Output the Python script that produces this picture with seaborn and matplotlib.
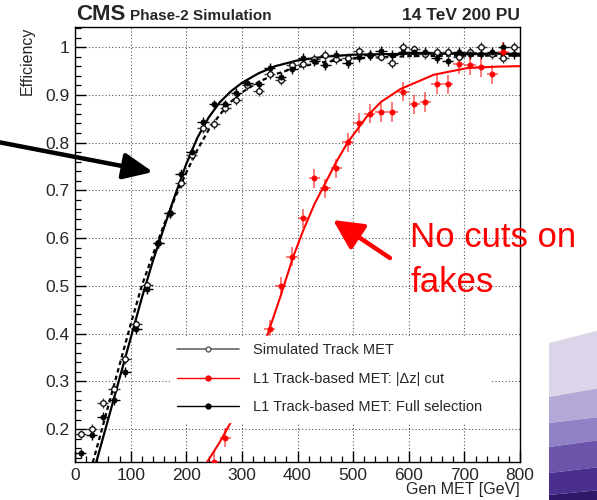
import numpy as np
import pandas as pd
import matplotlib
matplotlib.use("Agg")
import matplotlib.pyplot as plt
import seaborn as sns
from matplotlib.lines import Line2D
from matplotlib.patches import Polygon
from matplotlib.ticker import MultipleLocator, FuncFormatter

# ---------------- data ----------------
bin_centers = [10, 30, 50, 70, 90, 110, 130, 150, 170, 190,
               210, 230, 250, 270, 290, 310, 330, 350, 370, 390,
               410, 430, 450, 470, 490, 510, 530, 550, 570, 590,
               610, 630, 650, 670, 690, 710, 730, 750, 770, 790]

sim_eff = [0.189, 0.201, 0.254, 0.283, 0.346, 0.421, 0.501, 0.589, 0.652, 0.715,
           0.774, 0.830, 0.839, 0.872, 0.889, 0.920, 0.908, 0.943, 0.930, 0.962,
           0.964, 0.975, 0.983, 0.974, 0.978, 0.992, 0.983, 0.980, 0.966, 1.000,
           0.995, 0.985, 0.990, 0.990, 0.980, 0.990, 1.000, 0.985, 0.977, 1.000]

full_eff = [0.149, 0.187, 0.226, 0.260, 0.319, 0.409, 0.493, 0.589, 0.652, 0.735,
            0.780, 0.843, 0.880, 0.880, 0.904, 0.924, 0.922, 0.956, 0.937, 0.954,
            0.977, 0.970, 0.962, 0.983, 0.966, 0.979, 0.983, 0.992, 0.983, 0.990,
            0.990, 0.990, 0.977, 0.970, 0.990, 0.985, 0.985, 0.990, 1.000, 0.985]

dz_x = [250, 270, 350, 370, 390, 410, 430, 450, 470, 490, 510, 530, 550,
        570, 590, 610, 630, 650, 670, 690, 710, 730, 750, 770]
dz_eff = [0.132, 0.182, 0.409, 0.499, 0.561, 0.641, 0.725, 0.704, 0.746, 0.801,
          0.841, 0.860, 0.864, 0.864, 0.906, 0.880, 0.885, 0.922, 0.922, 0.964,
          0.962, 0.958, 0.943, 0.990]

sim_err = [0.010] * len(bin_centers)
full_err = [0.010] * len(bin_centers)
dz_err = [0.020] * len(dz_x)
bin_half_width = 10

# fitted curves
full_fit_x = [38, 60, 80, 100, 120, 140, 160, 180, 200, 220, 240, 260, 280,
              300, 330, 360, 400, 450, 500, 600, 700, 800]
full_fit_y = [0.13, 0.222, 0.306, 0.39, 0.474, 0.552, 0.622, 0.69, 0.755, 0.81,
              0.852, 0.884, 0.907, 0.925, 0.945, 0.96, 0.972, 0.98, 0.984, 0.986,
              0.986, 0.986]

sim_fit_x = [32, 60, 80, 100, 120, 140, 160, 180, 200, 220, 240, 260, 280,
             300, 330, 360, 400, 450, 500, 600, 700, 800]
sim_fit_y = [0.13, 0.249, 0.334, 0.419, 0.50, 0.565, 0.628, 0.685, 0.737, 0.785,
             0.826, 0.858, 0.885, 0.905, 0.927, 0.943, 0.958, 0.969, 0.976, 0.981,
             0.982, 0.982]

dz_fit_x = [237, 260, 282, 345, 370, 392, 410, 430, 450, 470, 490, 525, 550,
            585, 645, 705, 760, 800]
dz_fit_y = [0.13, 0.172, 0.218, 0.394, 0.48, 0.56, 0.615, 0.67, 0.715, 0.76,
            0.80, 0.855, 0.885, 0.912, 0.942, 0.956, 0.959, 0.96]

x_ticks = [0, 100, 200, 300, 400, 500, 600, 700, 800]
y_ticks = [0.2, 0.3, 0.4, 0.5, 0.6, 0.7, 0.8, 0.9, 1.0]

# ---------------- style ----------------
sns.set_theme(style="white")
plt.rcParams['font.family'] = ['Liberation Sans', 'DejaVu Sans']
plt.rcParams['axes.linewidth'] = 1.0

W, H = 597, 500
fig = plt.figure(figsize=(W / 100, H / 100), dpi=100)
ax = fig.add_axes([75 / W, 38 / H, 445 / W, 435 / H])

# grid
ax.set_axisbelow(True)
ax.grid(True, which='major', linestyle=(0, (1, 2)), color='#555555', linewidth=0.8)

# fitted curves
sns.lineplot(x=sim_fit_x, y=sim_fit_y, ax=ax, color='black', linewidth=1.6,
             linestyle=(0, (2, 1.5)), sort=False, estimator=None, zorder=3)
sns.lineplot(x=full_fit_x, y=full_fit_y, ax=ax, color='black', linewidth=1.6,
             sort=False, estimator=None, zorder=3)
sns.lineplot(x=dz_fit_x, y=dz_fit_y, ax=ax, color='#ff0000', linewidth=1.5,
             sort=False, estimator=None, zorder=3)

# error bars
ax.errorbar(bin_centers, sim_eff, xerr=bin_half_width, yerr=sim_err, fmt='none',
            ecolor='#333333', elinewidth=1.0, capsize=0, zorder=4)
ax.errorbar(bin_centers, full_eff, xerr=bin_half_width, yerr=full_err, fmt='none',
            ecolor='black', elinewidth=1.0, capsize=0, zorder=4)
ax.errorbar(dz_x, dz_eff, xerr=bin_half_width, yerr=dz_err, fmt='none',
            ecolor='#ff0000', alpha=0.6, elinewidth=1.2, capsize=0, zorder=4)

# markers
sns.scatterplot(x=bin_centers, y=sim_eff, ax=ax, marker='o', s=16,
                facecolor='white', edgecolor='black', linewidth=0.9, zorder=5)
sns.scatterplot(x=bin_centers, y=full_eff, ax=ax, marker='o', s=14,
                color='black', edgecolor='black', linewidth=0.5, zorder=6)
sns.scatterplot(x=dz_x, y=dz_eff, ax=ax, marker='o', s=14,
                color='#ff0000', edgecolor='#ff0000', linewidth=0.5, zorder=6)

# axes
ax.set_xlim(0, 800)
ax.set_ylim(0.131, 1.042)
ax.set_xticks(x_ticks)
ax.set_yticks(y_ticks)
ax.xaxis.set_minor_locator(MultipleLocator(20))
ax.yaxis.set_minor_locator(MultipleLocator(0.02))
ax.yaxis.set_major_formatter(FuncFormatter(lambda v, p: ('%g' % round(v, 2))))
ax.tick_params(which='both', direction='in', top=False, right=False,
               bottom=True, left=True, color='black', labelsize=12.5)
ax.tick_params(which='major', length=8, width=1.0, pad=4)
ax.tick_params(which='minor', length=4.5, width=0.9)
for s in ax.spines.values():
    s.set_color('black')
    s.set_linewidth(1.0)

ax.set_xlabel('Gen MET [GeV]', fontsize=11.5, loc='right')
ax.xaxis.set_label_coords(1.0, -0.045)
ax.set_ylabel('Efficiency', fontsize=11.5, loc='top')
ax.yaxis.set_label_coords(-0.09, 1.0)

# header texts
fig.text(76 / W, 1 - 20.5 / H, 'CMS', fontsize=16, fontweight='bold', ha='left', va='baseline')
fig.text(130 / W, 1 - 20.5 / H, 'Phase-2 Simulation', fontsize=11, fontweight='bold',
         ha='left', va='baseline')
fig.text(520 / W, 1 - 20.5 / H, '14 TeV 200 PU', fontsize=12.5, fontweight='bold',
         ha='right', va='baseline')

# legend
handles = [
    Line2D([], [], color='#666666', lw=1.2, marker='o', ms=3.5, mfc='white', mec='#555555'),
    Line2D([], [], color='#ff0000', lw=1.0, marker='o', ms=3.5, mfc='#ff0000', mec='#ff0000'),
    Line2D([], [], color='black', lw=1.0, marker='o', ms=3.5, mfc='black', mec='black'),
]
labels = ['Simulated Track MET', 'L1 Track-based MET: |Δz| cut',
          'L1 Track-based MET: Full selection']
leg = ax.legend(handles, labels, loc='upper left',
                bbox_to_anchor=((170 - 75) / 445, (462 - 336) / 435),
                bbox_transform=ax.transAxes, borderaxespad=0, borderpad=0.5,
                frameon=True, fancybox=False, framealpha=1.0, facecolor='white',
                edgecolor='white', fontsize=10.5, handlelength=4.2,
                handletextpad=1.0, labelspacing=1.0)
leg.set_zorder(10)

# annotations outside / on the plot
ax.annotate('', xy=(153, H - 172), xycoords='figure pixels',
            xytext=(-2, H - 142), textcoords='figure pixels',
            arrowprops=dict(arrowstyle='-|>,head_length=0.9,head_width=0.4',
                            mutation_scale=20, lw=3.2, color='black',
                            shrinkA=0, shrinkB=0),
            annotation_clip=False, zorder=20)
ax.annotate('', xy=(333, H - 220), xycoords='figure pixels',
            xytext=(390, H - 258), textcoords='figure pixels',
            arrowprops=dict(arrowstyle='-|>,head_length=0.9,head_width=0.45',
                            mutation_scale=20, lw=3.2, color='#ff0000',
                            shrinkA=0, shrinkB=0),
            annotation_clip=False, zorder=20)
fig.text(410 / W, 1 - 247 / H, 'No cuts on', fontsize=25, color='#ff0000',
         ha='left', va='baseline', zorder=20)
fig.text(410 / W, 1 - 292 / H, 'fakes', fontsize=25, color='#ff0000',
         ha='left', va='baseline', zorder=20)

# purple decoration in the lower right corner
x0, x1 = 549, 600
bounds = [(343, 330), (397, 388), (423, 417), (447, 440), (473, 467), (495, 490), (502, 502)]
band_colors = ['#dcd5ea', '#b4a8d6', '#9181c5', '#6b54aa', '#4a2f8f', '#2f1868']
for (a, b), (c, d), col in zip(bounds[:-1], bounds[1:], band_colors):
    pts = [(x0 / W, 1 - a / H), (x1 / W, 1 - b / H), (x1 / W, 1 - d / H), (x0 / W, 1 - c / H)]
    fig.add_artist(Polygon(pts, closed=True, transform=fig.transFigure,
                           facecolor=col, edgecolor='none', zorder=0))

fig.savefig('out.png', dpi=100)
